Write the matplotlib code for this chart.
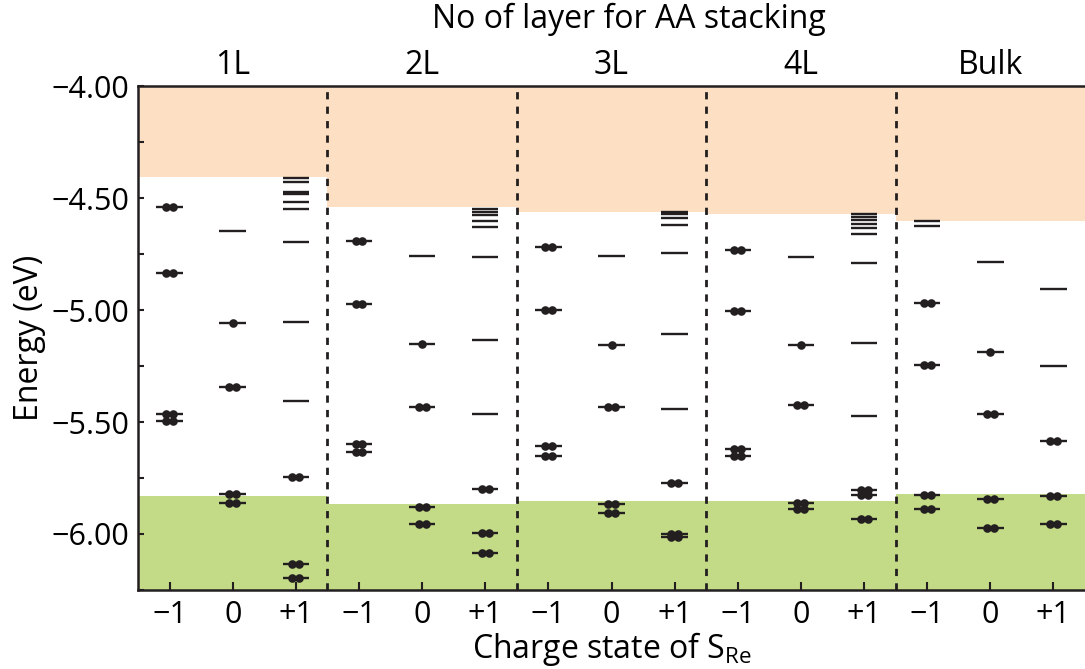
import numpy as np
import matplotlib.pyplot as plt
from matplotlib.ticker import FixedLocator, FuncFormatter

plt.rcParams['font.family'] = ['Open Sans', 'DejaVu Sans']
plt.rcParams['mathtext.fontset'] = 'custom'
plt.rcParams['mathtext.rm'] = 'Open Sans'
plt.rcParams['mathtext.it'] = 'Open Sans'

# Stacking cases and charge states of the S_Re defect
panels = ['1L', '2L', '3L', '4L', 'Bulk']
charges = ['\u22121', '0', '+1']

# Band edges for each case (eV)
cbm = [-4.405, -4.539, -4.561, -4.573, -4.601]
vbm = [-5.830, -5.865, -5.853, -5.853, -5.823]

# Defect levels per case, one list per charge state (-1, 0, +1)
# empty: unoccupied, full: doubly occupied
empty_1l = [[], [-4.646], [-4.409, -4.427, -4.474, -4.483, -4.518, -4.549, -4.695, -5.054, -5.405]]
full_1l = [[-4.539, -4.833, -5.463, -5.497], [-5.344, -5.820, -5.862], [-5.746, -6.133, -6.195]]

empty_2l = [[], [-4.759], [-4.550, -4.562, -4.574, -4.603, -4.629, -4.763, -5.134, -5.464]]
full_2l = [[-4.690, -4.972, -5.600, -5.632], [-5.431, -5.879, -5.955], [-5.799, -5.996, -6.085]]

empty_3l = [[], [-4.759], [-4.564, -4.573, -4.588, -4.619, -4.746, -5.106, -5.441]]
full_3l = [[-4.717, -4.999, -5.606, -5.650], [-5.431, -5.865, -5.905], [-5.771, -5.998, -6.012]]

empty_4l = [[], [-4.763], [-4.570, -4.585, -4.600, -4.614, -4.632, -4.659, -4.790, -5.147, -5.473]]
full_4l = [[-4.731, -5.004, -5.619, -5.650], [-5.424, -5.862, -5.887], [-5.802, -5.826, -5.933]]

empty_bulk = [[-4.601, -4.625], [-4.784], [-4.905, -5.248]]
full_bulk = [[-4.967, -5.244, -5.824, -5.887], [-5.464, -5.845, -5.973], [-5.583, -5.830, -5.954]]

# singly occupied level of the neutral defect
half_0 = [-5.058, -5.150, -5.156, -5.155, -5.188]

empty_levels = [empty_1l, empty_2l, empty_3l, empty_4l, empty_bulk]
full_levels = [full_1l, full_2l, full_3l, full_4l, full_bulk]

ink = '#231f20'
orange = '#fde0c3'
green = '#c3db87'

fig = plt.figure(figsize=(10.85, 6.69), dpi=100)
ax = fig.add_axes([0.1272, 0.1181, 0.8728, 0.7533])

ymin, ymax = -6.25, -4.0
hw = 0.21      # half width of a level line
dx = 0.055     # spacing of the two electrons

for p in range(len(panels)):
    x0 = 3 * p
    ax.fill_between([x0, x0 + 3], cbm[p], ymax, color=orange, lw=0, zorder=0)
    ax.fill_between([x0, x0 + 3], ymin, vbm[p], color=green, lw=0, zorder=0)
    for j in range(3):
        xc = x0 + j + 0.5
        levels = empty_levels[p][j] + full_levels[p][j]
        if j == 1:
            levels = levels + [half_0[p]]
        ax.hlines(levels, xc - hw, xc + hw, color=ink, lw=1.7, zorder=2)
        for e in full_levels[p][j]:
            ax.plot([xc - dx, xc + dx], [e, e], 'o', color=ink, ms=6.2, mec='none', zorder=3)
        if j == 1:
            ax.plot(xc, half_0[p], 'o', color=ink, ms=6.2, mec='none', zorder=3)
    ax.text(x0 + 1.5, 1.04, panels[p], transform=ax.get_xaxis_transform(),
            ha='center', va='center', fontsize=23)

for b in range(1, len(panels)):
    ax.axvline(3 * b, color=ink, lw=2.0, ls=(0, (2.6, 2.6)), zorder=1)

ax.set_xlim(0, 15)
ax.set_ylim(ymin, ymax)

xt = [3 * p + j + 0.5 for p in range(len(panels)) for j in range(3)]
ax.set_xticks(xt)
ax.set_xticklabels(charges * len(panels), fontsize=22)

ax.yaxis.set_major_locator(FixedLocator(np.arange(-6.0, -3.99, 0.5)))
ax.yaxis.set_minor_locator(FixedLocator(np.arange(-6.25, -3.99, 0.25)))
ax.yaxis.set_major_formatter(FuncFormatter(lambda v, _: f'{v:.2f}'.replace('-', '\u2212')))
ax.tick_params(axis='y', which='both', direction='in', length=4, width=1.5,
               color=ink, labelsize=22, pad=6)
ax.tick_params(axis='x', direction='in', length=6, width=1.5, color=ink, pad=7)

for side in ['left', 'bottom', 'top']:
    ax.spines[side].set_linewidth(1.8)
    ax.spines[side].set_color(ink)
ax.spines['right'].set_visible(False)

ax.set_ylabel('Energy (eV)', fontsize=23, labelpad=4)
ax.set_xlabel('Charge state of S$_{\\mathrm{Re}}$', fontsize=23, labelpad=0)

fig.text(0.58, 1 - 19 / 669, 'No of layer for AA stacking', ha='center', va='center', fontsize=23)

fig.savefig('out.png', dpi=100)
